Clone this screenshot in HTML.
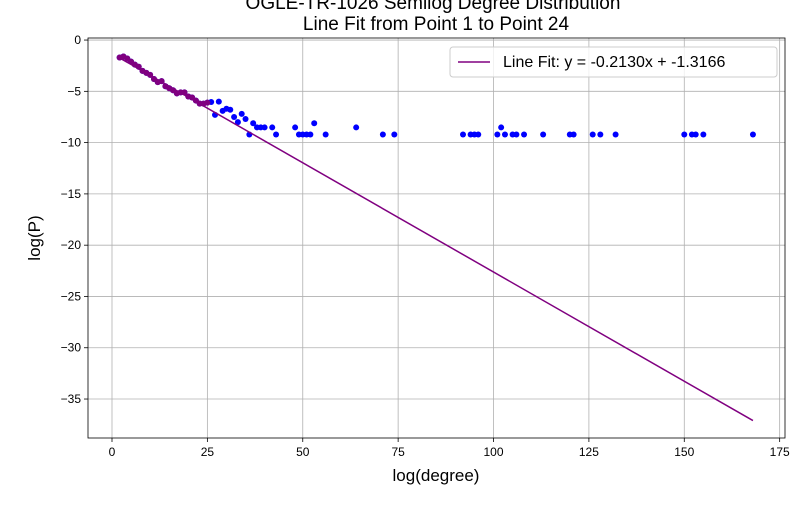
<!DOCTYPE html>
<html><head><meta charset="utf-8"><style>
body{margin:0;background:#fff;font-family:"Liberation Sans",sans-serif}
svg text{font-family:"Liberation Sans","DejaVu Sans",sans-serif}
</style></head><body>
<svg id="c" width="800" height="500" xmlns="http://www.w3.org/2000/svg"></svg>
<script>
const fitX=[2,3,4,5,6,7,8,9,10,11,12,13,14,15,16,17,18,19,20,21,22,23,24,25];
const fitY=[-1.7,-1.6,-1.8,-2.1,-2.4,-2.6,-3.0,-3.2,-3.4,-3.8,-4.1,-4.0,-4.5,-4.7,-4.9,-5.2,-5.1,-5.1,-5.5,-5.6,-5.9,-6.2,-6.2,-6.1];
const restX=[26,27,28,29,30,31,32,33,34,35,36,37,38,39,40,42,43,48,49,50,51,52,53,56,64,71,74,92,94,95,96,101,102,103,105,106,108,113,120,121,126,128,132,150,152,153,155,168];
const restY=[-6.04,-7.3,-6.0,-6.9,-6.7,-6.8,-7.5,-8.0,-7.2,-7.7,-9.21,-8.11,-8.52,-8.52,-8.52,-8.52,-9.21,-8.52,-9.21,-9.21,-9.21,-9.21,-8.11,-9.21,-8.52,-9.21,-9.21,-9.21,-9.21,-9.21,-9.21,-9.21,-8.52,-9.21,-9.21,-9.21,-9.21,-9.21,-9.21,-9.21,-9.21,-9.21,-9.21,-9.21,-9.21,-9.21,-9.21,-9.21];
const slope=-0.2130, intercept=-1.3166;
const xTicks=[0,25,50,75,100,125,150,175];
const yTicks=[0,-5,-10,-15,-20,-25,-30,-35];
const L=88,R=785,T=38,B=438,x0=-6.29,x1=176.4,y0=-38.8,y1=0.2;
const sx=v=>L+(v-x0)/(x1-x0)*(R-L), sy=v=>B-(v-y0)/(y1-y0)*(B-T);
const svg=document.getElementById('c');const NS='http://www.w3.org/2000/svg';
function mk(t,a,p){const e=document.createElementNS(NS,t);for(const k in a)e.setAttribute(k,a[k]);(p||svg).appendChild(e);return e;}
function tx(s,x,y,sz,anc){const e=mk('text',{x:x,y:y,'font-size':sz,'text-anchor':anc||'middle',fill:'#000'});e.textContent=s;return e;}
xTicks.forEach(v=>{const X=sx(v);
const g=mk('line',{x1:X,x2:X,y1:T,y2:B,stroke:'#b0b0b0','stroke-width':0.8});


mk('line',{x1:X,x2:X,y1:B,y2:B+4,stroke:'#000','stroke-width':0.8});
const t=tx(String(v),X,B+18,12);

});
yTicks.forEach(v=>{const Y=sy(v);
const g=mk('line',{x1:L,x2:R,y1:Y,y2:Y,stroke:'#b0b0b0','stroke-width':0.8});


mk('line',{x1:L-4,x2:L,y1:Y,y2:Y,stroke:'#000','stroke-width':0.8});
const t=tx(String(v).replace('-','−'),L-7,Y+4,12,'end');

});
const allX=fitX.concat(restX),allY=fitY.concat(restY);
allX.forEach((v,i)=>{const c=mk('circle',{cx:sx(v),cy:sy(allY[i]),r:3,fill:'#0000ff'});

});
fitX.forEach((v,i)=>{const c=mk('circle',{cx:sx(v),cy:sy(fitY[i]),r:3,fill:'#800080'});

});
const xa=2,xb=168;
const ln=mk('line',{x1:sx(xa),y1:sy(slope*xa+intercept),x2:sx(xb),y2:sy(slope*xb+intercept),stroke:'#800080','stroke-width':1.5});


const fr=mk('rect',{x:L,y:T,width:R-L,height:B-T,fill:'none',stroke:'#000','stroke-width':0.8});


const lg=mk('g',{});


mk('rect',{x:450,y:47,width:327,height:30,rx:3,fill:'#fff','fill-opacity':0.8,stroke:'#ccc'},lg);
mk('line',{x1:458,x2:490,y1:62,y2:62,stroke:'#800080','stroke-width':1.5},lg);
const lt=mk('text',{x:503,y:67,'font-size':16,fill:'#000'},lg);lt.textContent='Line Fit: y = -0.2130x + -1.3166';
const t1=tx('OGLE-TR-1026 Semilog Degree Distribution',433,9,19);


const t2=tx('Line Fit from Point 1 to Point 24',436,30,19);


const xl=tx('log(degree)',436,481,17);


const yl=tx('log(P)',40,238,17);
yl.setAttribute('transform','rotate(-90 40 238)');


</script>
</body></html>
